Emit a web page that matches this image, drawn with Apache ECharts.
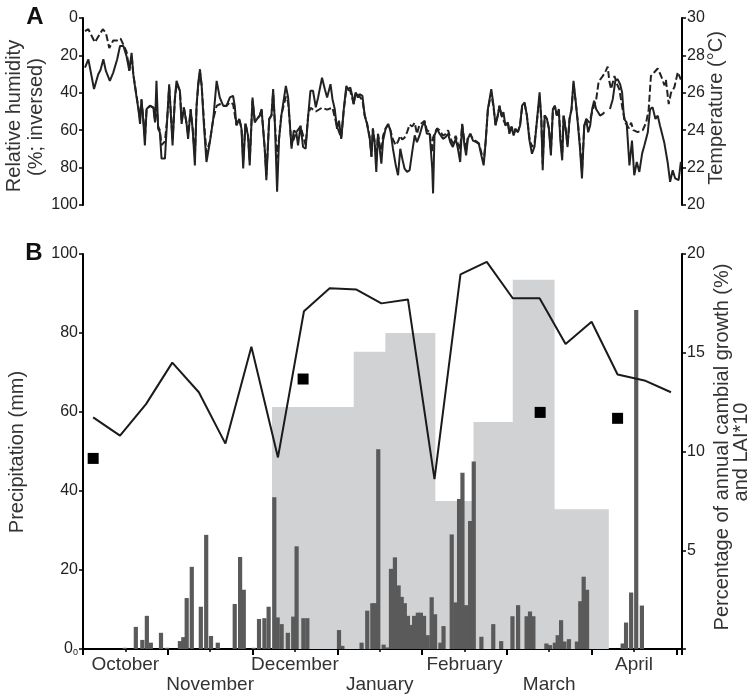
<!DOCTYPE html>
<html><head><meta charset="utf-8">
<script src="https://cdn.jsdelivr.net/npm/echarts@6/dist/echarts.min.js"></script>
<style>html,body{margin:0;padding:0;background:#fff}#c{width:756px;height:699px}</style>
</head><body><div id="c"></div>
<script>
// ---- Data (x = day since 1 October) ----
const months = ['October','November','December','January','February','March','April'];

// Panel A: relative humidity (%; solid) and temperature (°C; dashed)
const rh = [[0.7,26.5],[1.9,22.1],[3.9,38],[5.4,30.1],[6.2,27.8],[7.2,22.1],[8.1,28.3],[9.5,33.6],[10.7,29.2],[12.1,22.1],[13.1,15],[14.3,15],[15.4,20.4],
[16.4,28.3],[17.2,18.6],[17.8,30.1],[18.7,39.8],[19.6,48.7],[20.2,56.6],[20.7,43.4],[21.3,54],[21.9,68.1],[22.5,48.7],[23.7,46.9],[24.9,47.8],[25.5,55.8],[26,33.6],[26.6,59.3],[27.2,61.1],[27.8,75.2],[29,75.2],[29.8,54],[30.5,35.4],[31,48.7],[31.7,68.1],[32.5,43.4],[33.1,33.6],[34.3,38.9],[34.9,56.6],[35.7,47.8],[36.6,55.8],[37.2,64.6],[38.1,48.7],[38.8,59.3],[39.6,78.8],[40.2,46.9],[40.8,34.5],[41.4,27.4],[42,36.3],[42.8,57.5],[43.7,77],[44.9,66.4],[46.1,54],[47.3,33.6],[48.4,42.5],[49.6,46.9],[50.8,46.9],[52,42.5],[53.1,41.6],[53.7,46.9],[54.3,57.5],[55.3,54],[56.1,59.3],[56.7,80.5],[57.5,56.6],[58.4,62.8],[59,78.8],[60,42.5],[60.8,55.8],[61.6,54],[62.6,52.2],[63.2,48.7],[64.3,69.9],[64.9,86.7],[65.9,54],[66.7,52.2],[67.3,38],[67.9,55.8],[68.7,92.9],[69.4,64.6],[70.2,52.2],[70.8,53.1],[71.8,36.3],[72.6,42.5],[73.8,69.9],[74.6,60.2],[75.5,61.1],[76.1,68.1],[77,57.5],[77.9,69],[78.8,69.9],[79.7,52.2],[80.5,38.9],[81.4,38.9],[82.4,47.8],[83.2,42.5],[84.6,31.9],[85.6,38.1],[86.4,42.5],[87.6,35.4],[88.3,43.4],[89.1,48.7],[89.9,59.3],[90.6,54.9],[91.4,64.6],[92.3,48.7],[93.2,36.3],[93.8,38.1],[94.6,37.2],[95.3,41.6],[95.8,46],[96.5,39.8],[97.3,42.5],[97.9,40.7],[98.9,41.6],[99.7,52.2],[100.5,56.6],[101.5,64.6],[102.1,74.3],[102.6,59.3],[103.2,66.4],[103.8,82.3],[104.4,61.9],[105,69.9],[105.6,77.9],[106.2,65.5],[107.1,59.3],[108,56.6],[108.8,60.2],[109.7,69.9],[110.7,78.8],[111.5,84.1],[112.3,69.9],[113,75.2],[113.8,80.5],[114.7,82.3],[115.6,81.4],[116.5,71.7],[117.4,62.8],[118.2,66.4],[119.1,62.8],[120.1,57.5],[120.9,55.8],[121.7,61.9],[122.7,61.9],[123.6,80.5],[123.9,93.8],[124.4,62.8],[125.3,59.3],[126.2,61.9],[127.4,64.6],[128.3,63.7],[129.2,61.9],[130,66.4],[130.9,69],[131.9,64.6],[132.7,69.9],[133.5,77],[134.2,56.6],[135,68.1],[135.6,73.5],[136.2,64.6],[137.1,61.9],[138,65.5],[139.2,66.4],[140.1,67.3],[141,73.5],[141.8,78.8],[142.5,66.4],[143.3,48.7],[144.5,38],[145.3,46.9],[146,57.5],[146.8,52.2],[147.4,46.9],[148.1,52.2],[148.8,50.4],[149.5,57.5],[150.4,55.8],[150.9,61.9],[151.7,58.4],[152.4,62.8],[153.1,59.3],[153.9,61.1],[154.7,57.5],[155.4,46.9],[156.3,45.1],[157.1,52.2],[158,65.3],[158.9,72.6],[159.8,68.8],[160.6,55.8],[161.6,39.8],[162.2,54],[162.7,81.4],[163.4,52.2],[164.2,54],[164.9,59.3],[165.6,73.5],[166.3,48.7],[167,46.9],[167.7,52.2],[168.4,48.7],[168.9,64.6],[169.6,76.1],[170.1,52.2],[170.8,59.3],[171.5,69],[172.2,54],[172.9,48.7],[173.6,33.6],[174.3,43.4],[175.1,55.8],[175.9,69.9],[176.6,85.8],[177.4,57.5],[178.1,54],[178.8,61.1],[179.5,57.5],[180.2,48.7],[180.9,44.2],[181.6,48.7],[182.3,50.4],[183,52.2],[184,51.3],[184.5,50.4],[185.5,'-'],[186.5,48.7],[187.5,43.4],[188.4,33.6],[189.2,32.7],[190.1,35.4],[190.8,39.8],[191.5,54],[192.4,55.8],[193.4,78.8],[194.3,65.5],[195.1,84.1],[196,77],[196.9,82.3],[197.9,72.4],[198.7,68.1],[199.9,61.1],[200.7,48.7],[201.6,47.8],[202.6,54],[203.4,52.2],[204.2,57.5],[205.7,66.4],[206.9,77],[207.8,87.6],[208.7,81.4],[209.6,85.8],[210.8,86.7],[211.6,77]];

const temp = [[0.7,29.3],[1.9,29.4],[4.2,28.7],[7.0,29.4],[8.1,29.2],[9.3,28.4],[10.7,28.8],[12.1,28.8],[13.3,28.9],[14.5,28.5],[15.4,28.2],[16.4,27.2],[17.2,28.0],[17.8,27.0],[18.7,26.1],[19.6,25.2],[20.2,24.6],[20.7,25.6],[21.3,24.7],[21.9,23.6],[22.5,25.1],[23.7,25.3],[24.9,25.2],[25.5,24.5],[26,25.5],[26.6,24.2],[27.2,24.0],[27.8,23.2],[29,23.4],[29.8,24.6],[30.5,26.3],[31,25.1],[31.7,23.5],[32.5,25.6],[33.1,26.5],[34.3,26.1],[34.9,24.5],[35.7,25.2],[36.6,24.4],[37.2,23.8],[38.1,25.1],[38.8,24.1],[39.6,22.6],[40.2,25.3],[40.8,26.4],[41.4,27.1],[42,26.4],[42.8,24.5],[43.7,22.8],[44.9,23.4],[46.1,24.6],[47.3,25.3],[48.4,25.4],[49.6,25.3],[50.8,25.3],[52,25.5],[53.1,25.4],[53.7,25.3],[54.3,24.3],[55.3,24.6],[56.1,24.1],[56.7,22.4],[57.5,24.4],[58.4,23.7],[59,22.4],[60,25.6],[60.8,24.5],[61.6,24.6],[62.6,24.8],[63.2,25.1],[64.3,23.1],[64.9,21.6],[65.9,24.6],[66.7,24.8],[67.3,26.0],[67.9,24.4],[68.7,22.5],[69.4,23.6],[70.2,24.8],[71.8,25.8],[72.6,25.5],[73.8,23.2],[75.5,23.9],[77,24.2],[78.8,23.2],[79.7,24.8],[80.5,25.2],[82.4,25.0],[84.6,25.2],[86.4,25.1],[88.3,25.2],[89.9,24.2],[91.4,23.6],[92.3,25.1],[93.2,26.2],[94.6,26.1],[95.8,25.4],[96.5,26.0],[97.9,25.8],[98.9,25.6],[99.7,24.8],[100.5,24.4],[101.5,23.6],[102.1,22.6],[102.6,24.1],[103.2,23.4],[103.8,22.4],[104.4,23.8],[105,23.2],[105.6,22.9],[106.2,23.7],[107.1,24.1],[108,24.3],[108.8,24.0],[109.7,23.5],[110.7,23.2],[111.5,23.4],[112.3,23.7],[113,23.5],[113.8,23.6],[114.7,23.9],[115.6,24.3],[116.5,24.2],[117.4,24.4],[118.2,23.8],[119.1,24.3],[120.1,24.4],[120.9,24.5],[121.7,24.0],[122.7,23.9],[123.6,22.8],[123.9,23.6],[124.4,23.8],[125.3,24.1],[126.2,24.0],[127.4,23.7],[128.3,23.8],[129.2,24.0],[130,23.6],[130.9,23.3],[131.9,23.7],[132.7,23.3],[133.5,23.0],[134.2,24.3],[135,23.4],[135.6,23.0],[136.2,23.6],[137.1,23.8],[138,23.5],[139.2,23.4],[140.1,23.3],[141,22.8],[141.8,22.3],[142.5,23.4],[143.3,25.1],[144.5,26.0],[145.3,25.2],[146,24.3],[146.8,24.8],[147.4,25.3],[148.1,24.8],[148.8,24.9],[149.5,24.3],[150.4,24.4],[150.9,23.9],[151.7,24.2],[152.4,23.8],[153.1,24.1],[153.9,23.9],[154.7,24.3],[155.4,25.2],[156.3,25.4],[157.1,24.8],[158,23.6],[158.9,23.1],[159.8,23.3],[160.6,24.4],[161.6,25.8],[162.2,24.6],[162.7,22.2],[163.4,24.8],[164.2,24.6],[164.9,24.1],[165.6,22.9],[166.3,25.0],[167,25.3],[167.7,24.8],[168.4,25.1],[168.9,23.8],[169.6,22.6],[170.1,24.8],[170.8,24.1],[171.5,23.2],[172.2,24.6],[172.9,25.1],[173.6,26.5],[174.3,25.6],[175.1,24.5],[175.9,23.2],[176.6,21.8],[177.4,24.2],[178.1,24.6],[179.2,24.4],[180.4,25.1],[181.6,25.6],[182.5,26.6],[184,26.9],[185.1,27.2],[185.7,27.4],[186.3,26.6],[186.9,26.2],[188.1,26.9],[188.9,26.5],[189.8,26.2],[191,25.1],[192,24.4],[193.2,24.1],[194,24.4],[194.8,24.0],[196.3,23.9],[198.1,24.0],[199.3,24.4],[200.2,25.1],[201,26.9],[202.2,27.1],[203.4,27.3],[204.6,26.9],[205.8,26.4],[206.3,26.7],[207.3,25.4],[208.1,26.0],[209.3,26.3],[210.5,27.1],[211.6,26.7]];

// Panel B: daily precipitation (mm)
const precipDay = [14.8,18.7,21,22.6,24,27.6,29.7,34.3,35.5,36.7,38.5,41.7,43.6,45.3,47.7,53.7,55.6,56.9,60.4,62.3,64.2,65.7,67.7,68.9,70.3,72.5,74.4,75.6,78,79.4,90.6,91.8,98.6,100.6,102.4,103.4,104.5,106.4,107.8,109,110.4,111.7,112.8,113.9,115,116,117.2,118.5,119.6,120.7,122,123.4,124.6,126.5,127.6,130.5,131.8,133.1,134.3,135.6,137,138.3,141,145.2,148,152,154,157,158.2,159.4,164,165.3,167,168,169.2,170.4,172,174.8,176,177.2,178.4,191,192.2,194,195.8,197.8];
const precipMm  = [0.3,5.6,2.3,8.4,1.6,4.1,0.3,2,3,12.9,20.8,10.7,28.9,3.3,1.6,11.4,23.3,15,0.3,7.6,7.8,10.7,38.4,8,6.3,4.1,8.2,26,7.8,7.8,4.8,0.8,1.6,9.7,11.6,11.6,50.6,1.1,0.4,20.3,23.2,16.1,13.2,11.6,8.4,6.1,8.4,9.2,9.2,8.4,3.5,13.1,8.8,1.6,5.8,29,11.8,38,44.6,11.1,32.4,47.5,3.1,6.3,2,8.3,11.1,8.3,9.5,8.3,1.4,1,1.6,3.5,7.3,1.9,2.5,1.9,12.1,18.3,15,1.4,6.7,14.3,85.8,11];

// Percentage of annual cambial growth (%), per period (start day, value), last period ends at growthEnd
const growthStart = [66.9,95.8,107,124.7,138.2,152.1,166.9];
const growthVal   = [12.25,15.05,16.0,7.5,11.5,18.7,7.07];
const growthEnd   = 186.1;

// LAI*10 line
const laiDay = [3.6,13.1,22.3,31.6,41,50.4,59.6,69,78.2,87.3,96.8,105.6,115,124.4,133.6,142.9,152.1,161.6,170.8,180,189.2,198.7,208.1];
const laiVal = [11.73,10.8,12.4,14.5,13.0,10.4,15.3,9.7,17.1,18.26,18.2,17.5,17.7,8.6,18.97,19.6,17.76,17.76,15.44,16.57,13.9,13.6,13.0];

// Squares
const sqDay = [3.6,77.9,161.8,189.2];
const sqVal = [9.65,13.67,11.98,11.68];

// ---- Build chart ----
const FF = "'Liberation Sans', Arial, sans-serif";
const growthData = growthStart.map((d,i)=>[d,growthVal[i]]).concat([[growthEnd, growthVal[growthVal.length-1]]]);
const precipData = precipDay.map((d,i)=>[d,precipMm[i]]);
const laiData = laiDay.map((d,i)=>[d,laiVal[i]]);
const sqData = sqDay.map((d,i)=>[d,sqVal[i]]);

const yBase = (extra) => Object.assign({
  type:'value',
  axisLine:{show:true,onZero:false,lineStyle:{color:'#000',width:2}},
  axisTick:{show:true,length:4,lineStyle:{color:'#000',width:1.5}},
  axisLabel:{fontSize:16,color:'#222',fontFamily:FF,margin:5},
  splitLine:{show:false}
}, extra);

const chart = echarts.init(document.getElementById('c'), null, {renderer:'canvas'});
chart.setOption({
  animation:false,
  backgroundColor:'#fff',
  textStyle:{fontFamily:FF},
  grid:[
    {left:83, right:74, top:18, height:187},
    {left:83, right:74, top:254, height:395}
  ],
  xAxis:[
    {gridIndex:0,type:'value',min:0,max:212,show:false},
    {gridIndex:1,type:'value',min:0,max:212,interval:30,position:'bottom',
      axisLine:{onZero:false,lineStyle:{color:'#000',width:2}},
      axisTick:{length:6,lineStyle:{color:'#000',width:2}},
      minorTick:{show:true,splitNumber:2,length:3,lineStyle:{color:'#000',width:1.5}},
      axisLabel:{show:false},splitLine:{show:false}},
    {gridIndex:1,type:'value',min:0,max:212,interval:15,position:'bottom',offset:0,
      axisLine:{show:false,onZero:false},axisTick:{show:false},splitLine:{show:false},
      axisLabel:{fontSize:19,lineHeight:20,color:'#333',fontFamily:FF,margin:6,showMinLabel:true,showMaxLabel:true,
        formatter:function(v){
          if (Math.round(v)%30!==15) return '';
          const i = Math.round((v-15)/30);
          if (i<0||i>=months.length) return '';
          return (i%2 ? '\n' : '') + months[i];
        }}}
  ],
  yAxis:[
    yBase({gridIndex:0,min:0,max:100,interval:20,inverse:true,position:'left'}),
    yBase({gridIndex:0,min:20,max:30,interval:2,position:'right'}),
    yBase({gridIndex:1,min:0,max:100,interval:20,position:'left',
      axisLabel:{fontSize:16,color:'#222',fontFamily:FF,margin:5,
        formatter:function(v){return v===0?'0{s|0}':String(v);},
        rich:{s:{fontSize:9,color:'#222',verticalAlign:'bottom',padding:[6,0,0,0]}}}}),
    yBase({gridIndex:1,min:0,max:20,interval:5,position:'right',
      axisLabel:{fontSize:16,color:'#222',fontFamily:FF,margin:5,formatter:function(v){return v===0?'':String(v);}}})
  ],
  series:[
    {type:'line',name:'RH',xAxisIndex:0,yAxisIndex:0,data:rh,symbol:'none',connectNulls:false,
      lineStyle:{color:'#222',width:2},z:3},
    {type:'line',name:'Temperature',xAxisIndex:0,yAxisIndex:1,data:temp,symbol:'none',
      lineStyle:{color:'#222',width:2,type:[7,3]},z:2},
    {type:'line',name:'Cambial growth',xAxisIndex:1,yAxisIndex:3,data:growthData,step:'end',symbol:'none',
      lineStyle:{width:0,color:'#d1d2d4'},areaStyle:{color:'#d1d2d4',opacity:1},z:1},
    {type:'bar',name:'Precipitation',xAxisIndex:1,yAxisIndex:2,data:precipData,barWidth:4.2,
      itemStyle:{color:'#5a5a5a'},z:2},
    {type:'line',name:'LAI*10',xAxisIndex:1,yAxisIndex:3,data:laiData,symbol:'none',
      lineStyle:{color:'#1a1a1a',width:2},z:4},
    {type:'scatter',name:'Squares',xAxisIndex:1,yAxisIndex:3,data:sqData,symbol:'rect',symbolSize:11,
      itemStyle:{color:'#000',opacity:1},z:5}
  ],
  graphic:[
    {type:'text',x:35,y:17,style:{text:'A',font:"bold 24px "+FF,fill:'#111',align:'center',verticalAlign:'middle'}},
    {type:'text',x:34,y:253,style:{text:'B',font:"bold 24px "+FF,fill:'#111',align:'center',verticalAlign:'middle'}},
    {type:'text',x:14,y:116,rotation:Math.PI/2,style:{text:'Relative humidity',font:"20px "+FF,fill:'#333',align:'center',verticalAlign:'middle'}},
    {type:'text',x:36,y:117,rotation:Math.PI/2,style:{text:'(%; inversed)',font:"20px "+FF,fill:'#333',align:'center',verticalAlign:'middle'}},
    {type:'text',x:716,y:108,rotation:Math.PI/2,style:{text:'Temperature (°C)',font:"20px "+FF,fill:'#333',align:'center',verticalAlign:'middle'}},
    {type:'text',x:17,y:452,rotation:Math.PI/2,style:{text:'Precipitation (mm)',font:"20px "+FF,fill:'#333',align:'center',verticalAlign:'middle'}},
    {type:'text',x:722,y:447,rotation:Math.PI/2,style:{text:'Percentage of annual cambial growth (%)',font:"20px "+FF,fill:'#333',align:'center',verticalAlign:'middle'}},
    {type:'text',x:741,y:452,rotation:Math.PI/2,style:{text:'and LAI*10',font:"20px "+FF,fill:'#333',align:'center',verticalAlign:'middle'}}
  ]
});
</script></body></html>
